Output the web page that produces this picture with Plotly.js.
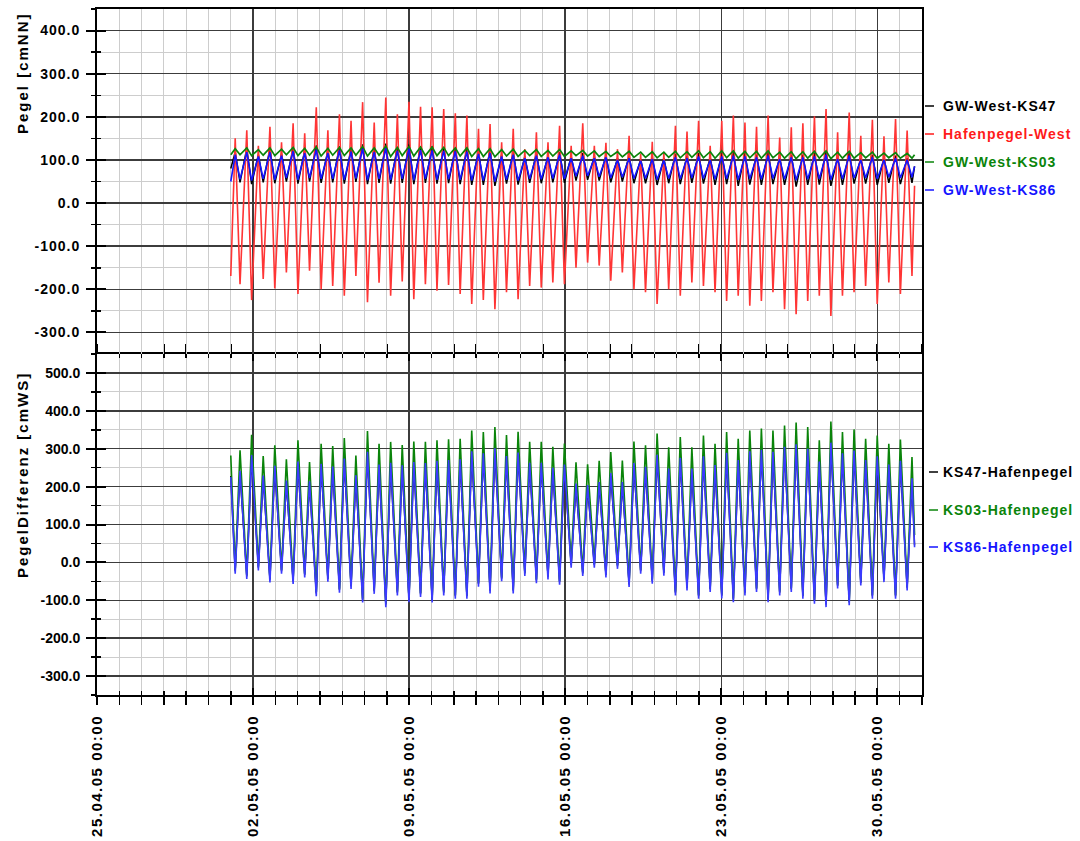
<!DOCTYPE html>
<html>
<head>
<meta charset="utf-8">
<script src="https://cdn.plot.ly/plotly-3.0.1.min.js"></script>
<style>
  html, body { margin: 0; padding: 0; background: #fff; }
  #chart { width: 1080px; height: 841px; }
  .xtick text { letter-spacing: 1.5px; }
  .ytick text { letter-spacing: 1px; }
</style>
</head>
<body>
<div id="chart"></div>
<script>
// ---------- time base of the tide record ----------
const recordStart = '2005-05-01 00:00';
const recordEnd   = '2005-05-31 16:00';
const firstHighWater = '2005-05-01 04:45';
const tidePeriodHours = 12.47;
const highToLowHours = 5.2;

// ---------- upper panel: Pegel [cmNN], values at each high water (hi) and low water (lo) ----------
const hafenHi = [150,169,133,177,141,185,162,222,169,206, 191,234,187,245,206,235,223,222,218,208,203,172,183, 141,172,125,164,141,179,133,185,133,140, 125,156,114,142,118,179,166,191,133,191,203,187, 177,203,152,176,185,201,218,164,210,156,193,155,195,168];
const hafenLo = [-188,-225,-176,-198,-161,-211,-157,-200,-192,-215, -169,-230,-185,-215,-182,-223,-188,-203,-190,-211,-234,-225,-246, -207,-223,-192,-196,-184,-188,-150,-138,-145, -180,-161,-200,-207,-234,-200,-215,-184,-192,-207,-227,-215,-238, -227,-207,-246,-258,-227,-215,-262,-215,-207,-192,-234,-184,-211,-169];
const hafenEnds = [-169, 40];

const ks47Hi = [118,126,112,126,114,128,122,134,122,132, 126,136,126,138,130,136,132,132,130,128,127,120,124, 112,118,108,116,110,118,108,116,108,110, 104,110,102,106,104,114,110,116,106,116,118,116, 112,118,106,112,112,116,120,106,118,104,112,104,110,104];
const ks47Lo = [48,44,48,46,50,45,50,47,48,45, 49,44,47,45,47,44,47,45,46,44,42,42,40, 45,43,47,46,48,47,52,54,52,48, 50,46,46,42,46,44,47,45,42,44,40,43, 42,44,42,38,42,43,40,42,45,45,42,47,44,47];
const ks47Ends = [80, 85];

const ks03Hi = [126,128,124,128,125,129,127,130,127,129, 128,131,128,132,129,131,130,130,129,128,128,126,126, 124,125,122,124,122,124,121,122,121,120, 119,120,118,119,118,120,119,121,119,121,121,120, 120,121,118,119,119,120,121,118,120,117,118,116,117,115];
const ks03Lo = [112,110,111,110,112,110,111,109,111,110, 111,109,111,108,110,109,110,110,110,109,108,108,107, 109,108,110,108,109,108,110,109,108,108, 107,106,106,105,106,105,106,105,104,105,104,105, 104,105,104,103,104,104,103,104,104,105,104,105,104,104];
const ks03Ends = [112, 112];

const ks86Hi = [112,118,108,118,110,120,116,124,116,122, 119,126,118,127,121,126,123,122,121,120,119,114,116, 108,112,104,110,106,112,104,110,104,106, 100,104,98,102,99,106,104,108,100,108,110,108, 106,110,102,106,106,108,112,102,110,100,106,100,104,100];
const ks86Lo = [55,52,56,54,58,54,58,56,56,54, 57,53,56,54,56,53,56,54,55,54,52,52,50, 54,52,56,55,57,56,62,63,61,58, 60,57,57,54,57,56,58,57,55,56,54,56, 55,57,55,53,55,56,54,56,58,58,56,60,58,60];
const ks86Ends = [50, 85];

// ---------- lower panel: PegelDifferenz [cmWS], values at harbour high water (atHW) and low water (atLW) ----------
const d47AtHW = [-23,-37,-14,-46,-23,-50,-33,-82,-44,-73, -63,-99,-76,-111,-80,-98,-84,-99,-80,-89,-89,-57,-75, -43,-75,-29,-48,-38,-52,-7,-29,-7, -33,-10,-58,-23,-49,-28,-80,-67,-89,-71,-88,-98,-80, -71,-98,-80,-71,-89,-102,-111,-62,-106,-54,-89,-45,-89,-67];
const d47AtLW = [234,275,221,247,208,258,206,252,245,266, 222,284,250,255,248,257,254,260,262,264,285,280,293, 273,282,255,255,242,250,200,196,204, 228,204,254,244,276,240,268,240,272,249,281,262,285, 289,284,297,304,292,258,308,280,287,262,272,250,260,214];
const d47Ends = [228, 45];

const d03AtHW = [-20,-34,-11,-43,-20,-47,-30,-79,-41,-70, -60,-96,-73,-108,-77,-95,-81,-96,-77,-86,-86,-54,-72, -40,-72,-26,-45,-35,-49,-4,-26,-4, -30,-7,-55,-20,-46,-25,-77,-64,-86,-68,-85,-95,-77, -68,-95,-77,-68,-86,-99,-108,-59,-103,-51,-86,-42,-86,-64];
const d03AtLW = [296,337,281,309,272,322,265,313,307,328, 282,347,313,318,310,319,318,322,325,326,348,344,357, 336,345,318,318,305,314,264,259,268, 291,269,319,309,340,304,331,304,335,313,344,326,348, 353,348,361,369,357,322,372,344,351,326,335,313,324,278];
const d03Ends = [282, 72];

const d86AtHW = [-30,-44,-21,-53,-30,-57,-40,-89,-51,-80, -70,-106,-83,-118,-87,-105,-91,-106,-87,-96,-96,-64,-82, -50,-82,-36,-55,-45,-59,-14,-36,-14, -40,-17,-65,-30,-56,-35,-87,-74,-96,-78,-95,-105,-87, -78,-105,-87,-78,-96,-109,-118,-69,-113,-61,-96,-52,-96,-74];
const d86AtLW = [242,283,229,255,216,266,214,260,253,274, 230,292,258,263,256,265,262,268,270,272,293,288,301, 281,290,263,263,250,258,208,204,212, 236,212,262,252,284,248,276,248,280,257,289,270,293, 297,292,305,312,300,266,316,288,295,270,280,258,268,222];
const d86Ends = [225, 40];

// ---------- axis labels ----------
const xRange = ['2005-04-25 00:00', '2005-06-01 00:00'];
const topTickVals = [-300,-200,-100,0,100,200,300,400];
const topTickText = ['-300.0','-200.0','-100.0','0.0','100.0','200.0','300.0','400.0'];
const botTickVals = [-300,-200,-100,0,100,200,300,400,500];
const botTickText = ['-300.0','-200.0','-100.0','0.0','100.0','200.0','300.0','400.0','500.0'];

const topNames = ['GW-West-KS47','Hafenpegel-West','GW-West-KS03','GW-West-KS86'];
const botNames = ['KS47-Hafenpegel','KS03-Hafenpegel','KS86-Hafenpegel'];

// ---------- build ----------
function toMs(s) { const [d, t] = s.split(' '); const [Y, M, D] = d.split('-').map(Number); const [h, m] = t.split(':').map(Number); return Date.UTC(Y, M - 1, D, h, m); }
const t0 = toMs(recordStart), tEnd = toMs(recordEnd), tHW = toMs(firstHighWater);
const H = 3600e3;
function series(atHW, atLW, ends) {
  const x = [t0], y = [ends[0]];
  for (let i = 0; i < atHW.length; i++) {
    const th = tHW + i * tidePeriodHours * H;
    x.push(th); y.push(atHW[i]);
    x.push(th + highToLowHours * H); y.push(atLW[i]);
  }
  x.push(tEnd); y.push(ends[1]);
  return { x, y };
}
function line(s, color, width, xa, ya, name) {
  return { type: 'scatter', mode: 'lines', x: s.x, y: s.y, xaxis: xa, yaxis: ya, name,
           line: { color, width }, showlegend: false, hoverinfo: 'skip' };
}

const cBlack = '#000000', cRed = '#ff1a1a', cGreen = '#0a840a', cBlue = '#1414ff';
const cRedLine = '#ff3535', cBlueLine = '#3a3aff';

const traces = [
  line(series(ks47Hi, ks47Lo, ks47Ends), cBlack, 1.5, 'x2', 'y', topNames[0]),
  line(series(hafenHi, hafenLo, hafenEnds), cRedLine, 1.6, 'x2', 'y', topNames[1]),
  line(series(ks03Hi, ks03Lo, ks03Ends), cGreen, 1.7, 'x2', 'y', topNames[2]),
  line(series(ks86Hi, ks86Lo, ks86Ends), cBlue, 1.6, 'x2', 'y', topNames[3]),
  line(series(d47AtHW, d47AtLW, d47Ends), cBlack, 1.4, 'x', 'y2', botNames[0]),
  line(series(d03AtHW, d03AtLW, d03Ends), cGreen, 1.6, 'x', 'y2', botNames[1]),
  line(series(d86AtHW, d86AtLW, d86Ends), cBlueLine, 1.6, 'x', 'y2', botNames[2]),
  // empty carriers for the inner halves of the crossing ticks
  { type: 'scatter', x: [], y: [], xaxis: 'x3', yaxis: 'y2', showlegend: false, hoverinfo: 'skip' },
  { type: 'scatter', x: [], y: [], xaxis: 'x2', yaxis: 'y3', showlegend: false, hoverinfo: 'skip' },
  { type: 'scatter', x: [], y: [], xaxis: 'x', yaxis: 'y4', showlegend: false, hoverinfo: 'skip' }
];

const FONT = 'Liberation Sans, Arial, sans-serif';
const split = 341 / 686;
const majorGrid = '#3c3c3c', minorGrid = '#cdcdcd';
const DAY = 86400000;

const xCommon = {
  type: 'date', range: xRange, tick0: xRange[0], dtick: 7 * DAY,
  showline: true, linecolor: '#000', linewidth: 2,
  showgrid: true, gridcolor: majorGrid, gridwidth: 1.5, zeroline: false
};
const yCommon = {
  tickmode: 'array', showline: true, linecolor: '#000', linewidth: 2, mirror: true,
  showgrid: true, gridcolor: majorGrid, gridwidth: 1.5, zeroline: false,
  ticks: 'outside', ticklen: 9, tickwidth: 2, tickcolor: '#000',
  tickfont: { family: FONT, size: 14, color: '#000', weight: 'bold' }, ticklabelstandoff: 3,
  minor: { dtick: 50, tick0: 0, ticks: 'outside', ticklen: 4, tickwidth: 1.5, tickcolor: '#000',
           showgrid: true, gridcolor: minorGrid, gridwidth: 1 }
};

function px2paperX(px) { return (px - 97) / 825; }
function px2paperY(py) { return (695 - py) / 686; }

const annotations = [
  { text: '<span style="letter-spacing:2px">Pegel [cmNN]</span>', xref: 'paper', yref: 'paper',
    x: px2paperX(22), y: px2paperY(73), xanchor: 'center', yanchor: 'middle', textangle: -90, showarrow: false,
    font: { family: FONT, size: 15, color: '#000', weight: 'bold' } },
  { text: '<span style="letter-spacing:2px">PegelDifferenz [cmWS]</span>', xref: 'paper', yref: 'paper',
    x: px2paperX(22), y: px2paperY(475), xanchor: 'center', yanchor: 'middle', textangle: -90, showarrow: false,
    font: { family: FONT, size: 15, color: '#000', weight: 'bold' } }
];
const shapes = [];
const topColors = [cBlack, cRed, cGreen, cBlue];
const topLabelY = [106, 134, 162, 190];
topNames.forEach((n, i) => {
  annotations.push({ text: '<span style="letter-spacing:1px">' + n + '</span>', xref: 'paper', yref: 'paper',
    x: px2paperX(941), y: px2paperY(topLabelY[i]), xanchor: 'left', yanchor: 'middle', showarrow: false,
    font: { family: FONT, size: 14, color: topColors[i], weight: 'bold' } });
  shapes.push({ type: 'line', xref: 'paper', yref: 'paper', x0: px2paperX(925), x1: px2paperX(934),
    y0: px2paperY(topLabelY[i]), y1: px2paperY(topLabelY[i]), line: { color: topColors[i], width: 1.5 } });
});
const botColors = [cBlack, cGreen, cBlue];
const botLabelY = [472, 510, 547];
botNames.forEach((n, i) => {
  annotations.push({ text: '<span style="letter-spacing:1px">' + n + '</span>', xref: 'paper', yref: 'paper',
    x: px2paperX(941), y: px2paperY(botLabelY[i]), xanchor: 'left', yanchor: 'middle', showarrow: false,
    font: { family: FONT, size: 14, color: botColors[i], weight: 'bold' } });
  shapes.push({ type: 'line', xref: 'paper', yref: 'paper', x0: px2paperX(929), x1: px2paperX(938),
    y0: px2paperY(botLabelY[i]), y1: px2paperY(botLabelY[i]), line: { color: botColors[i], width: 1.5 } });
});

const layout = {
  width: 1080, height: 841,
  margin: { l: 97, r: 158, t: 9, b: 146, pad: 0 },
  paper_bgcolor: '#fff', plot_bgcolor: '#fff',
  showlegend: false,
  font: { family: FONT, color: '#000' },
  xaxis: Object.assign({}, xCommon, {
    domain: [0, 1], anchor: 'y2', mirror: 'allticks',
    ticks: 'outside', ticklen: 8, tickwidth: 2, tickcolor: '#000',
    tickformat: '%d.%m.%y %H:%M', tickangle: -90, ticklabelstandoff: 4,
    tickfont: { family: FONT, size: 15, color: '#000', weight: 'bold' },
    minor: { dtick: DAY, tick0: xRange[0], ticks: 'outside', ticklen: 4, tickwidth: 1.5, tickcolor: '#000',
             showgrid: true, gridcolor: minorGrid, gridwidth: 1 }
  }),
  xaxis2: Object.assign({}, xCommon, {
    domain: [0, 1], anchor: 'y', side: 'top', mirror: false, ticks: '', showticklabels: false,
    minor: { dtick: DAY, tick0: xRange[0], showgrid: true, gridcolor: minorGrid, gridwidth: 1 }
  }),
  xaxis3: {
    type: 'date', range: xRange, tick0: xRange[0], dtick: 7 * DAY, overlaying: 'x', anchor: 'y2',
    showline: false, showgrid: false, zeroline: false, showticklabels: false, mirror: 'allticks',
    ticks: 'inside', ticklen: 7, tickwidth: 2, tickcolor: '#000',
    minor: { dtick: DAY, tick0: xRange[0], ticks: 'inside', ticklen: 4, tickwidth: 1.5, tickcolor: '#000', showgrid: false }
  },
  yaxis: Object.assign({}, yCommon, {
    domain: [split, 1], anchor: 'x2', range: [-350, 450], tickvals: topTickVals, ticktext: topTickText
  }),
  yaxis2: Object.assign({}, yCommon, {
    domain: [0, split], anchor: 'x', range: [-350, 550], tickvals: botTickVals, ticktext: botTickText
  }),
  yaxis3: {
    overlaying: 'y', anchor: 'x2', range: [-350, 450], tickmode: 'array', tickvals: topTickVals,
    showline: false, showgrid: false, zeroline: false, showticklabels: false,
    ticks: 'inside', ticklen: 9, tickwidth: 2, tickcolor: '#000',
    minor: { dtick: 50, tick0: 0, ticks: 'inside', ticklen: 4, tickwidth: 1.5, tickcolor: '#000', showgrid: false }
  },
  yaxis4: {
    overlaying: 'y2', anchor: 'x', range: [-350, 550], tickmode: 'array', tickvals: botTickVals,
    showline: false, showgrid: false, zeroline: false, showticklabels: false,
    ticks: 'inside', ticklen: 9, tickwidth: 2, tickcolor: '#000',
    minor: { dtick: 50, tick0: 0, ticks: 'inside', ticklen: 4, tickwidth: 1.5, tickcolor: '#000', showgrid: false }
  },
  annotations, shapes
};

Plotly.newPlot('chart', traces, layout, { staticPlot: true, displayModeBar: false });
</script>
</body>
</html>
